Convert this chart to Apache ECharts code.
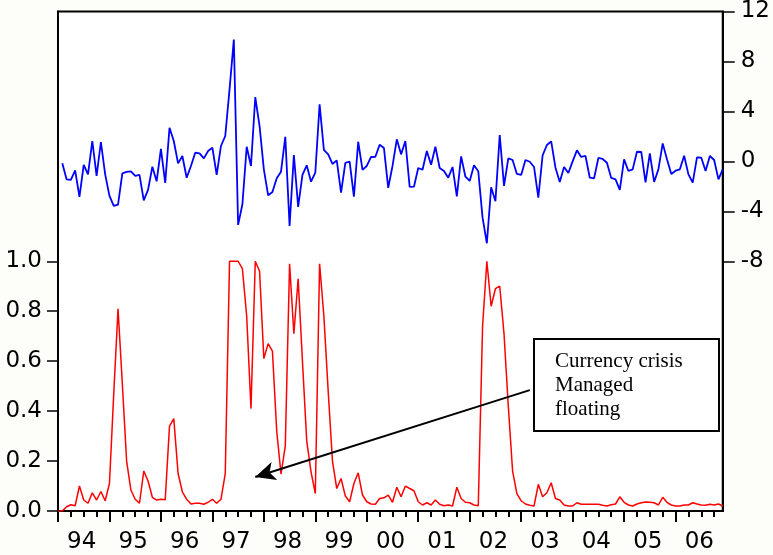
<!DOCTYPE html>
<html>
<head>
<meta charset="utf-8">
<script src="https://cdn.jsdelivr.net/npm/echarts@6/dist/echarts.min.js"></script>
<style>
  html, body { margin: 0; padding: 0; background: #fdfdf9; }
  #chart { width: 773px; height: 555px; }
</style>
</head>
<body>
<div id="chart"></div>
<script>
// Year labels along the bottom (1994-2006, monthly data)
const yearLabels = ['94', '95', '96', '97', '98', '99', '00', '01', '02', '03', '04', '05', '06'];
const firstYear = 1994;

// Left axis (probability) and right axis (monthly change) tick values
const probTicks = [0, 0.2, 0.4, 0.6, 0.8, 1.0];
const changeTicks = [-8, -4, 0, 4, 8, 12];

// Estimated probability of a currency crisis, one value per month (Jan 1994 - Dec 2006)
const crisisProbability = [
  0.000, 0.000, 0.017, 0.025, 0.021, 0.100, 0.044, 0.031, 0.073, 0.044, 0.078, 0.041,
  0.110, 0.470, 0.810, 0.510, 0.200, 0.084, 0.047, 0.031, 0.160, 0.120, 0.055, 0.044,
  0.047, 0.045, 0.340, 0.370, 0.150, 0.077, 0.047, 0.028, 0.031, 0.031, 0.027, 0.035,
  0.047, 0.031, 0.047, 0.150, 1.000, 1.000, 1.000, 0.970, 0.780, 0.410, 1.000, 0.960,
  0.610, 0.670, 0.640, 0.320, 0.148, 0.260, 0.990, 0.710, 0.930, 0.600, 0.280, 0.157,
  0.070, 0.990, 0.780, 0.480, 0.200, 0.090, 0.130, 0.060, 0.037, 0.110, 0.153, 0.064,
  0.037, 0.028, 0.027, 0.050, 0.053, 0.064, 0.035, 0.095, 0.057, 0.100, 0.090, 0.081,
  0.037, 0.024, 0.033, 0.024, 0.044, 0.027, 0.021, 0.024, 0.020, 0.095, 0.050, 0.035,
  0.033, 0.024, 0.021, 0.740, 1.000, 0.820, 0.890, 0.900, 0.710, 0.420, 0.160, 0.070,
  0.041, 0.028, 0.023, 0.020, 0.107, 0.057, 0.073, 0.113, 0.050, 0.044, 0.024, 0.020,
  0.020, 0.033, 0.027, 0.027, 0.027, 0.027, 0.027, 0.023, 0.020, 0.025, 0.028, 0.057,
  0.035, 0.024, 0.020, 0.028, 0.033, 0.036, 0.035, 0.033, 0.024, 0.055, 0.035, 0.024,
  0.020, 0.020, 0.024, 0.024, 0.033, 0.028, 0.024, 0.023, 0.027, 0.024, 0.028, 0.020
];

// Monthly percentage change of the exchange rate (first month has no prior value)
const rateChange = [
  null, -0.16, -1.44, -1.49, -0.72, -2.85, -0.29, -1.04, 1.63, -1.17, 1.55, -1.04,
  -2.77, -3.57, -3.47, -0.96, -0.85, -0.80, -1.17, -1.09, -3.12, -2.29, -0.43, -1.60,
  0.99, -1.73, 2.69, 1.63, -0.16, 0.43, -1.31, -0.37, 0.69, 0.64, 0.24, 0.83,
  1.09, -1.09, 1.23, 2.03, 5.76, 9.76, -5.09, -3.44, 1.17, -0.37, 5.15, 2.83,
  -0.64, -2.72, -2.45, -1.36, -0.83, 1.97, -5.17, 0.51, -3.65, -1.09, -0.32, -1.63,
  -0.91, 4.56, 0.91, 0.56, -0.21, 0.08, -2.51, -0.13, -0.03, -2.83, 1.57, -0.69,
  -0.37, 0.35, 0.37, 1.33, 1.07, -2.13, -0.37, 1.76, 0.56, 1.63, -2.05, -2.03,
  -0.53, -0.67, 0.83, -0.27, 1.17, -0.53, -0.77, -1.31, -0.45, -2.80, 0.40, -1.23,
  -1.57, -0.32, -0.80, -4.51, -6.56, -2.08, -3.20, 2.11, -1.97, 0.24, 0.11, -1.01,
  -1.09, 0.11, -0.03, -0.45, -2.91, 0.48, 1.31, 1.60, -0.51, -1.65, -0.45, -0.93,
  0.00, 0.88, 0.35, 0.43, -1.31, -1.36, 0.27, 0.19, -0.11, -1.33, -1.44, -2.29,
  0.16, -0.77, -0.64, 0.77, 0.75, -1.68, 0.64, -1.65, -0.64, 1.44, 0.16, -1.01,
  -0.75, -0.64, 0.45, -1.04, -1.71, 0.32, 0.29, -0.77, 0.43, 0.11, -1.44, -0.64
];

// Annotation text and the two ends of its arrow [month index, probability]
const noteLines = ['Currency crisis', 'Managed', 'floating'];
const arrowFrom = [110, 0.484];
const arrowTo = [46, 0.136];

// Month categories 1994M01 ... 2006M12
const months = [];
yearLabels.forEach(function (_, y) {
  for (let m = 1; m <= 12; m++) {
    months.push((firstYear + y) + 'M' + (m < 10 ? '0' + m : m));
  }
});

const labelFont = { fontFamily: 'DejaVu Sans', fontSize: 23, color: '#000' };
const axisLineStyle = { show: true, onZero: false, lineStyle: { color: '#000', width: 2 } };

const chart = echarts.init(document.getElementById('chart'), null, { renderer: 'canvas' });

chart.setOption({
  animation: false,
  backgroundColor: '#fdfdf9',
  grid: {
    left: 58, right: 48, top: 11, bottom: 44,
    show: true, backgroundColor: '#ffffff', borderColor: '#000', borderWidth: 2
  },
  xAxis: [
    {
      type: 'category',
      data: months,
      boundaryGap: false,
      position: 'bottom',
      axisLine: axisLineStyle,
      axisTick: {
        show: true, inside: false, length: 6,
        interval: function (index) { return index % 3 === 0; },
        lineStyle: { color: '#000', width: 2 }
      },
      axisLabel: Object.assign({
        interval: function (index) { return index % 12 === 6; },
        formatter: function (value, index) { return yearLabels[Math.floor(index / 12)]; },
        margin: 20,
        padding: [0, 4, 0, 0]
      }, labelFont),
      splitLine: { show: false }
    },
    {
      // longer ticks marking the start of each year
      type: 'category',
      data: months,
      boundaryGap: false,
      position: 'bottom',
      axisLine: { show: false, onZero: false },
      axisTick: {
        show: true, length: 11,
        interval: function (index) { return index % 12 === 0; },
        lineStyle: { color: '#000', width: 2 }
      },
      axisLabel: { show: false },
      splitLine: { show: false }
    }
  ],
  yAxis: [
    {
      type: 'value',
      position: 'left',
      min: 0, max: 2,
      axisLine: axisLineStyle,
      axisTick: { show: true, length: 11, customValues: probTicks, lineStyle: { color: '#000', width: 1.5 } },
      axisLabel: Object.assign({
        customValues: probTicks,
        margin: 16,
        padding: [0, 0, 6, 0],
        formatter: function (v) { return v.toFixed(1); }
      }, labelFont),
      splitLine: { show: false }
    },
    {
      type: 'value',
      position: 'right',
      min: -28, max: 12,
      axisLine: axisLineStyle,
      axisTick: { show: true, length: 12, customValues: changeTicks, lineStyle: { color: '#000', width: 1.5 } },
      axisLabel: Object.assign({
        customValues: changeTicks,
        margin: 18,
        formatter: function (v) { return String(v); }
      }, labelFont),
      splitLine: { show: false }
    }
  ],
  series: [
    {
      name: 'Exchange rate change',
      type: 'line',
      xAxisIndex: 0,
      yAxisIndex: 1,
      data: rateChange,
      showSymbol: false,
      connectNulls: false,
      lineStyle: { color: '#0000ff', width: 1.8 },
      itemStyle: { color: '#0000ff' },
      z: 3
    },
    {
      name: 'Crisis probability',
      type: 'line',
      xAxisIndex: 0,
      yAxisIndex: 0,
      data: crisisProbability,
      showSymbol: false,
      lineStyle: { color: '#ff0000', width: 1.5 },
      itemStyle: { color: '#ff0000' },
      z: 4,
      markLine: {
        silent: true,
        animation: false,
        symbol: ['none', 'arrow'],
        symbolSize: [14, 20],
        label: { show: false },
        lineStyle: { color: '#000', width: 2, type: 'solid' },
        emphasis: { disabled: true },
        data: [[{ coord: arrowFrom }, { coord: arrowTo }]]
      }
    }
  ],
  graphic: [
    {
      type: 'group',
      left: 533,
      top: 338,
      z: 100,
      children: [
        {
          type: 'rect',
          shape: { x: 0, y: 0, width: 185, height: 92 },
          style: { fill: '#ffffff', stroke: '#000', lineWidth: 2 }
        },
        {
          type: 'text',
          x: 21,
          y: 10,
          style: {
            text: noteLines.join('\n'),
            font: '21px "Liberation Serif"',
            lineHeight: 24,
            fill: '#000'
          }
        }
      ]
    }
  ]
});
</script>
</body>
</html>
